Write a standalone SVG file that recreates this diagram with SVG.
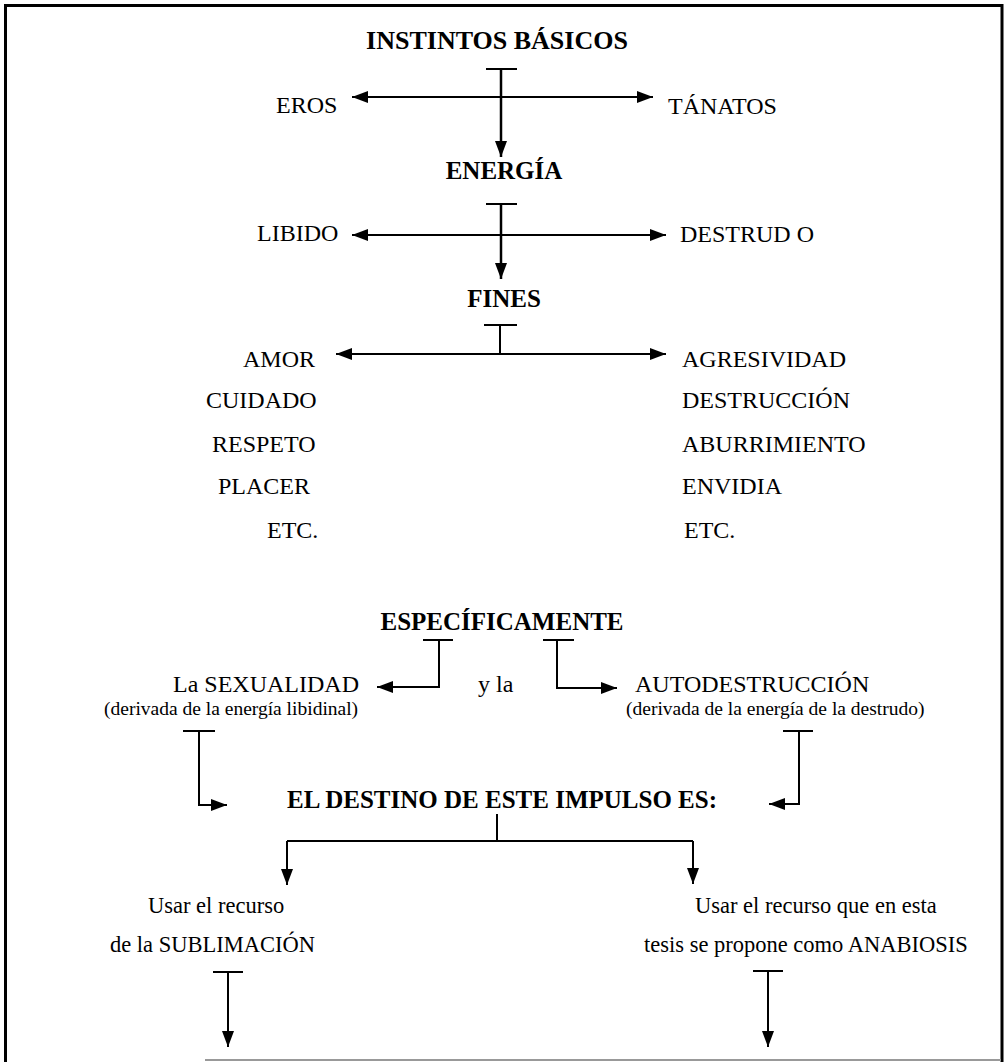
<svg xmlns="http://www.w3.org/2000/svg" width="1004" height="1062" viewBox="0 0 1004 1062">
<style>
text{font-family:"Liberation Serif","Times New Roman",serif;fill:#000}
.b{font-weight:bold;font-size:25px;text-anchor:middle}
.r{font-size:24px}
.s{font-size:19.5px}
.m{font-size:22.5px}
.ln{fill:none;stroke:#000;stroke-width:2}
.st{fill:none;stroke:#000;stroke-width:2.5}
</style>
<defs>
<marker id="ah" viewBox="0 0 16 12" refX="16" refY="6" markerWidth="16" markerHeight="12" markerUnits="userSpaceOnUse" orient="auto">
<path d="M0,0 L16,6 L0,12 Z" fill="#000"/>
</marker>
</defs>
<rect width="1004" height="1062" fill="#fff"/>
<g id="frame">
<path d="M5.5,1062 V5.5 H1002 V1062" fill="none" stroke="#000" stroke-width="3"/>
<path d="M205,1060 H1001" stroke="#999" stroke-width="2"/>
</g>
<g id="connectors">
<path class="ln" d="M486,69 H517"/>
<path class="st" d="M501,69 V157" marker-end="url(#ah)"/>
<path class="ln" d="M501,97 H352" marker-end="url(#ah)"/>
<path class="ln" d="M501,97 H653" marker-end="url(#ah)"/>
<path class="ln" d="M486,204 H517"/>
<path class="st" d="M501,204 V279" marker-end="url(#ah)"/>
<path class="ln" d="M501,235 H352" marker-end="url(#ah)"/>
<path class="ln" d="M501,235 H666" marker-end="url(#ah)"/>
<path class="ln" d="M484,325 H517"/>
<path class="ln" d="M500,325 V354"/>
<path class="ln" d="M500,354 H336" marker-end="url(#ah)"/>
<path class="ln" d="M500,354 H666" marker-end="url(#ah)"/>
<path class="ln" d="M423,640 H453"/>
<path class="ln" d="M439,640 V687 H377" marker-end="url(#ah)"/>
<path class="ln" d="M543,640 H574"/>
<path class="ln" d="M557,640 V688 H617" marker-end="url(#ah)"/>
<path class="ln" d="M183,731 H215"/>
<path class="ln" d="M199,731 V805 H227" marker-end="url(#ah)"/>
<path class="ln" d="M783,731 H813"/>
<path class="ln" d="M799,731 V804 H769" marker-end="url(#ah)"/>
<path class="ln" d="M497,814 V841"/>
<path class="ln" d="M287,841 H693"/>
<path class="ln" d="M287,841 V885" marker-end="url(#ah)"/>
<path class="ln" d="M693,841 V884" marker-end="url(#ah)"/>
<path class="ln" d="M213,972 H243"/>
<path class="ln" d="M228,972 V1047" marker-end="url(#ah)"/>
<path class="ln" d="M753,971 H783"/>
<path class="ln" d="M768,971 V1047" marker-end="url(#ah)"/>
</g>
<g id="instintos"><text class="b" x="497" y="49" style="font-size:26px">INSTINTOS BÁSICOS</text></g>
<g id="eros"><text class="r" x="276" y="113">EROS</text></g>
<g id="tanatos"><text class="r" x="668" y="114">TÁNATOS</text></g>
<g id="energia"><text class="b" x="504" y="179">ENERGÍA</text></g>
<g id="libido"><text class="r" x="257" y="241">LIBIDO</text></g>
<g id="destrudo"><text class="r" x="680" y="242">DESTRUD O</text></g>
<g id="fines"><text class="b" x="504" y="307">FINES</text></g>
<g id="fines-izq">
<text class="r" x="243" y="367">AMOR</text>
<text class="r" x="206" y="408">CUIDADO</text>
<text class="r" x="212" y="452">RESPETO</text>
<text class="r" x="218" y="494">PLACER</text>
<text class="r" x="267" y="538">ETC.</text>
</g>
<g id="fines-der">
<text class="r" x="682" y="367">AGRESIVIDAD</text>
<text class="r" x="682" y="408">DESTRUCCIÓN</text>
<text class="r" x="682" y="452">ABURRIMIENTO</text>
<text class="r" x="682" y="494">ENVIDIA</text>
<text class="r" x="684" y="538">ETC.</text>
</g>
<g id="especificamente"><text class="b" x="502" y="630">ESPECÍFICAMENTE</text></g>
<g id="sexualidad">
<text class="r" x="173" y="692">La SEXUALIDAD</text>
<text class="s" x="104" y="715">(derivada de la energía libidinal)</text>
</g>
<g id="yla"><text class="r" x="478" y="692">y la</text></g>
<g id="autodestruccion">
<text class="r" x="635" y="692">AUTODESTRUCCIÓN</text>
<text class="s" x="626" y="715">(derivada de la energía de la destrudo)</text>
</g>
<g id="destino"><text class="b" x="502" y="808">EL DESTINO DE ESTE IMPULSO ES:</text></g>
<g id="sublimacion">
<text class="m" x="148" y="913">Usar el recurso</text>
<text class="m" x="110" y="952">de la SUBLIMACIÓN</text>
</g>
<g id="anabiosis">
<text class="m" x="695" y="913">Usar el recurso que en esta</text>
<text class="m" x="644" y="952">tesis se propone como ANABIOSIS</text>
</g>
</svg>
